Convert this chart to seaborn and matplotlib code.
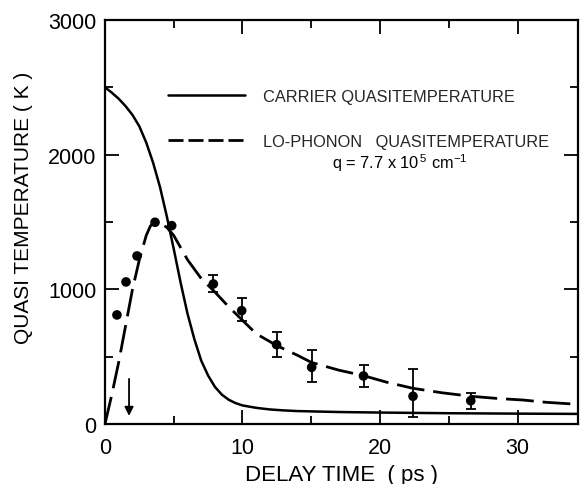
import numpy as np
import pandas as pd
import seaborn as sns
import matplotlib.pyplot as plt
from matplotlib.lines import Line2D

sns.set_theme(style="ticks")
plt.rcParams['font.family'] = ['Liberation Sans', 'DejaVu Sans']
plt.rcParams['mathtext.fontset'] = 'custom'
plt.rcParams['mathtext.rm'] = 'Liberation Sans'
plt.rcParams['mathtext.it'] = 'Liberation Sans:italic'

# Carrier quasitemperature (solid curve)
carrier_t = [0, 0.5, 1, 1.5, 2, 2.5, 3, 3.5, 4, 4.5, 5, 5.5, 6, 6.5, 7, 7.5,
             8, 8.5, 9, 9.5, 10, 11, 12, 13, 14, 17, 20, 25, 30, 34.4]
carrier_T = [2500, 2460, 2415, 2360, 2295, 2210, 2090, 1940, 1760, 1540, 1300,
             1050, 820, 630, 470, 360, 275, 218, 180, 155, 138, 120, 108, 101,
             96, 89, 85, 80, 77, 75]

# LO-phonon quasitemperature (dashed curve)
phonon_t = [0, 0.5, 1, 1.5, 2, 2.5, 3, 3.3, 3.6, 4, 4.5, 5, 6, 7, 7.9, 9, 9.9,
            11, 12.5, 14, 15, 17, 18.8, 20.5, 22.4, 24.5, 26.6, 28.5, 30.4,
            32.1, 34.4]
phonon_T = [0, 220, 460, 730, 1000, 1220, 1400, 1470, 1500, 1490, 1460, 1400,
            1220, 1080, 990, 870, 780, 670, 582, 510, 458, 400, 359, 310, 265,
            232, 206, 190, 178, 161, 146]

# Measured LO-phonon temperatures
data_t = [0.87, 1.53, 2.33, 3.64, 4.85, 7.88, 9.94, 12.48, 15.03, 18.8, 22.4, 26.6]
data_T = [810, 1055, 1248, 1498, 1473, 1040, 842, 589, 421, 357, 206, 173]

# Error-bar bounds for the later points
err_t = [7.88, 9.94, 12.48, 15.03, 18.8, 22.4, 26.6]
err_T = [1040, 842, 589, 421, 357, 206, 173]
err_lo = [980, 768, 495, 309, 272, 50, 111]
err_hi = [1110, 934, 686, 552, 440, 409, 230]

# Pump-pulse marker
arrow_t = 1.75
arrow_from, arrow_to = 335, 60

x_major = [0, 10, 20, 30]
x_minor = [5, 15, 25]
y_major = [0, 1000, 2000, 3000]
y_minor = [500, 1500, 2500]

carrier = pd.DataFrame({"t": carrier_t, "T": carrier_T})
phonon = pd.DataFrame({"t": phonon_t, "T": phonon_T})
points = pd.DataFrame({"t": data_t, "T": data_T})

fig = plt.figure(figsize=(5.8, 4.85), dpi=100)
ax = fig.add_axes([0.181, 0.1237, 0.8156, 0.833])

sns.lineplot(data=carrier, x="t", y="T", ax=ax, color="black", lw=1.8,
             sort=False, estimator=None)
sns.lineplot(data=phonon, x="t", y="T", ax=ax, color="black", lw=2.0,
             sort=False, estimator=None, dashes=False)
ax.lines[-1].set_dashes((10, 3.2))

lo = np.array(err_T) - np.array(err_lo)
hi = np.array(err_hi) - np.array(err_T)
ax.errorbar(err_t, err_T, yerr=[lo, hi], fmt="none", ecolor="black",
            elinewidth=1.3, capsize=3.6, capthick=1.3)
sns.scatterplot(data=points, x="t", y="T", ax=ax, color="black", s=48,
                edgecolor="none", zorder=5)

ax.annotate("", xy=(arrow_t, arrow_to), xytext=(arrow_t, arrow_from),
            arrowprops=dict(arrowstyle="-|>", lw=1.3, color="black",
                            mutation_scale=13, shrinkA=0, shrinkB=0))

ax.set_xlim(0, 34.4)
ax.set_ylim(0, 3000)
ax.set_xticks(x_major)
ax.set_xticks(x_minor, minor=True)
ax.set_yticks(y_major)
ax.set_yticks(y_minor, minor=True)
ax.tick_params(which="both", direction="in", top=True, right=True,
               color="black", width=1.3, labelsize=15.5, labelcolor="black")
ax.tick_params(which="major", length=10, pad=6)
ax.tick_params(axis="x", which="major", pad=9)
ax.tick_params(which="minor", length=5.5)
for s in ax.spines.values():
    s.set_visible(True)
    s.set_linewidth(1.6)
    s.set_color("black")

ax.set_xlabel("DELAY TIME  ( ps )", fontsize=16, color="black", labelpad=5)
ax.set_ylabel("QUASI TEMPERATURE ( K )", fontsize=15, color="black")
ax.yaxis.set_label_coords(-0.152, 0.537)

handles = [Line2D([], [], color="black", lw=1.8),
           Line2D([], [], color="black", lw=2.0, dashes=(5.4, 1.8))]
labels = ["CARRIER QUASITEMPERATURE", "LO-PHONON   QUASITEMPERATURE"]
ax.legend(handles, labels, loc="upper left", bbox_to_anchor=(0.133, 0.83),
          frameon=False, fontsize=11.75, handlelength=4.7, handletextpad=1.15,
          labelspacing=1.85, borderpad=0, borderaxespad=0)
ax.text(0.624, 0.647, r"q = 7.7 x 10$^{\,5}$ cm$^{\mathrm{-1}}$",
        transform=ax.transAxes, ha="center", va="center", fontsize=11.75,
        color="black")

fig.savefig("out.png", dpi=100)
